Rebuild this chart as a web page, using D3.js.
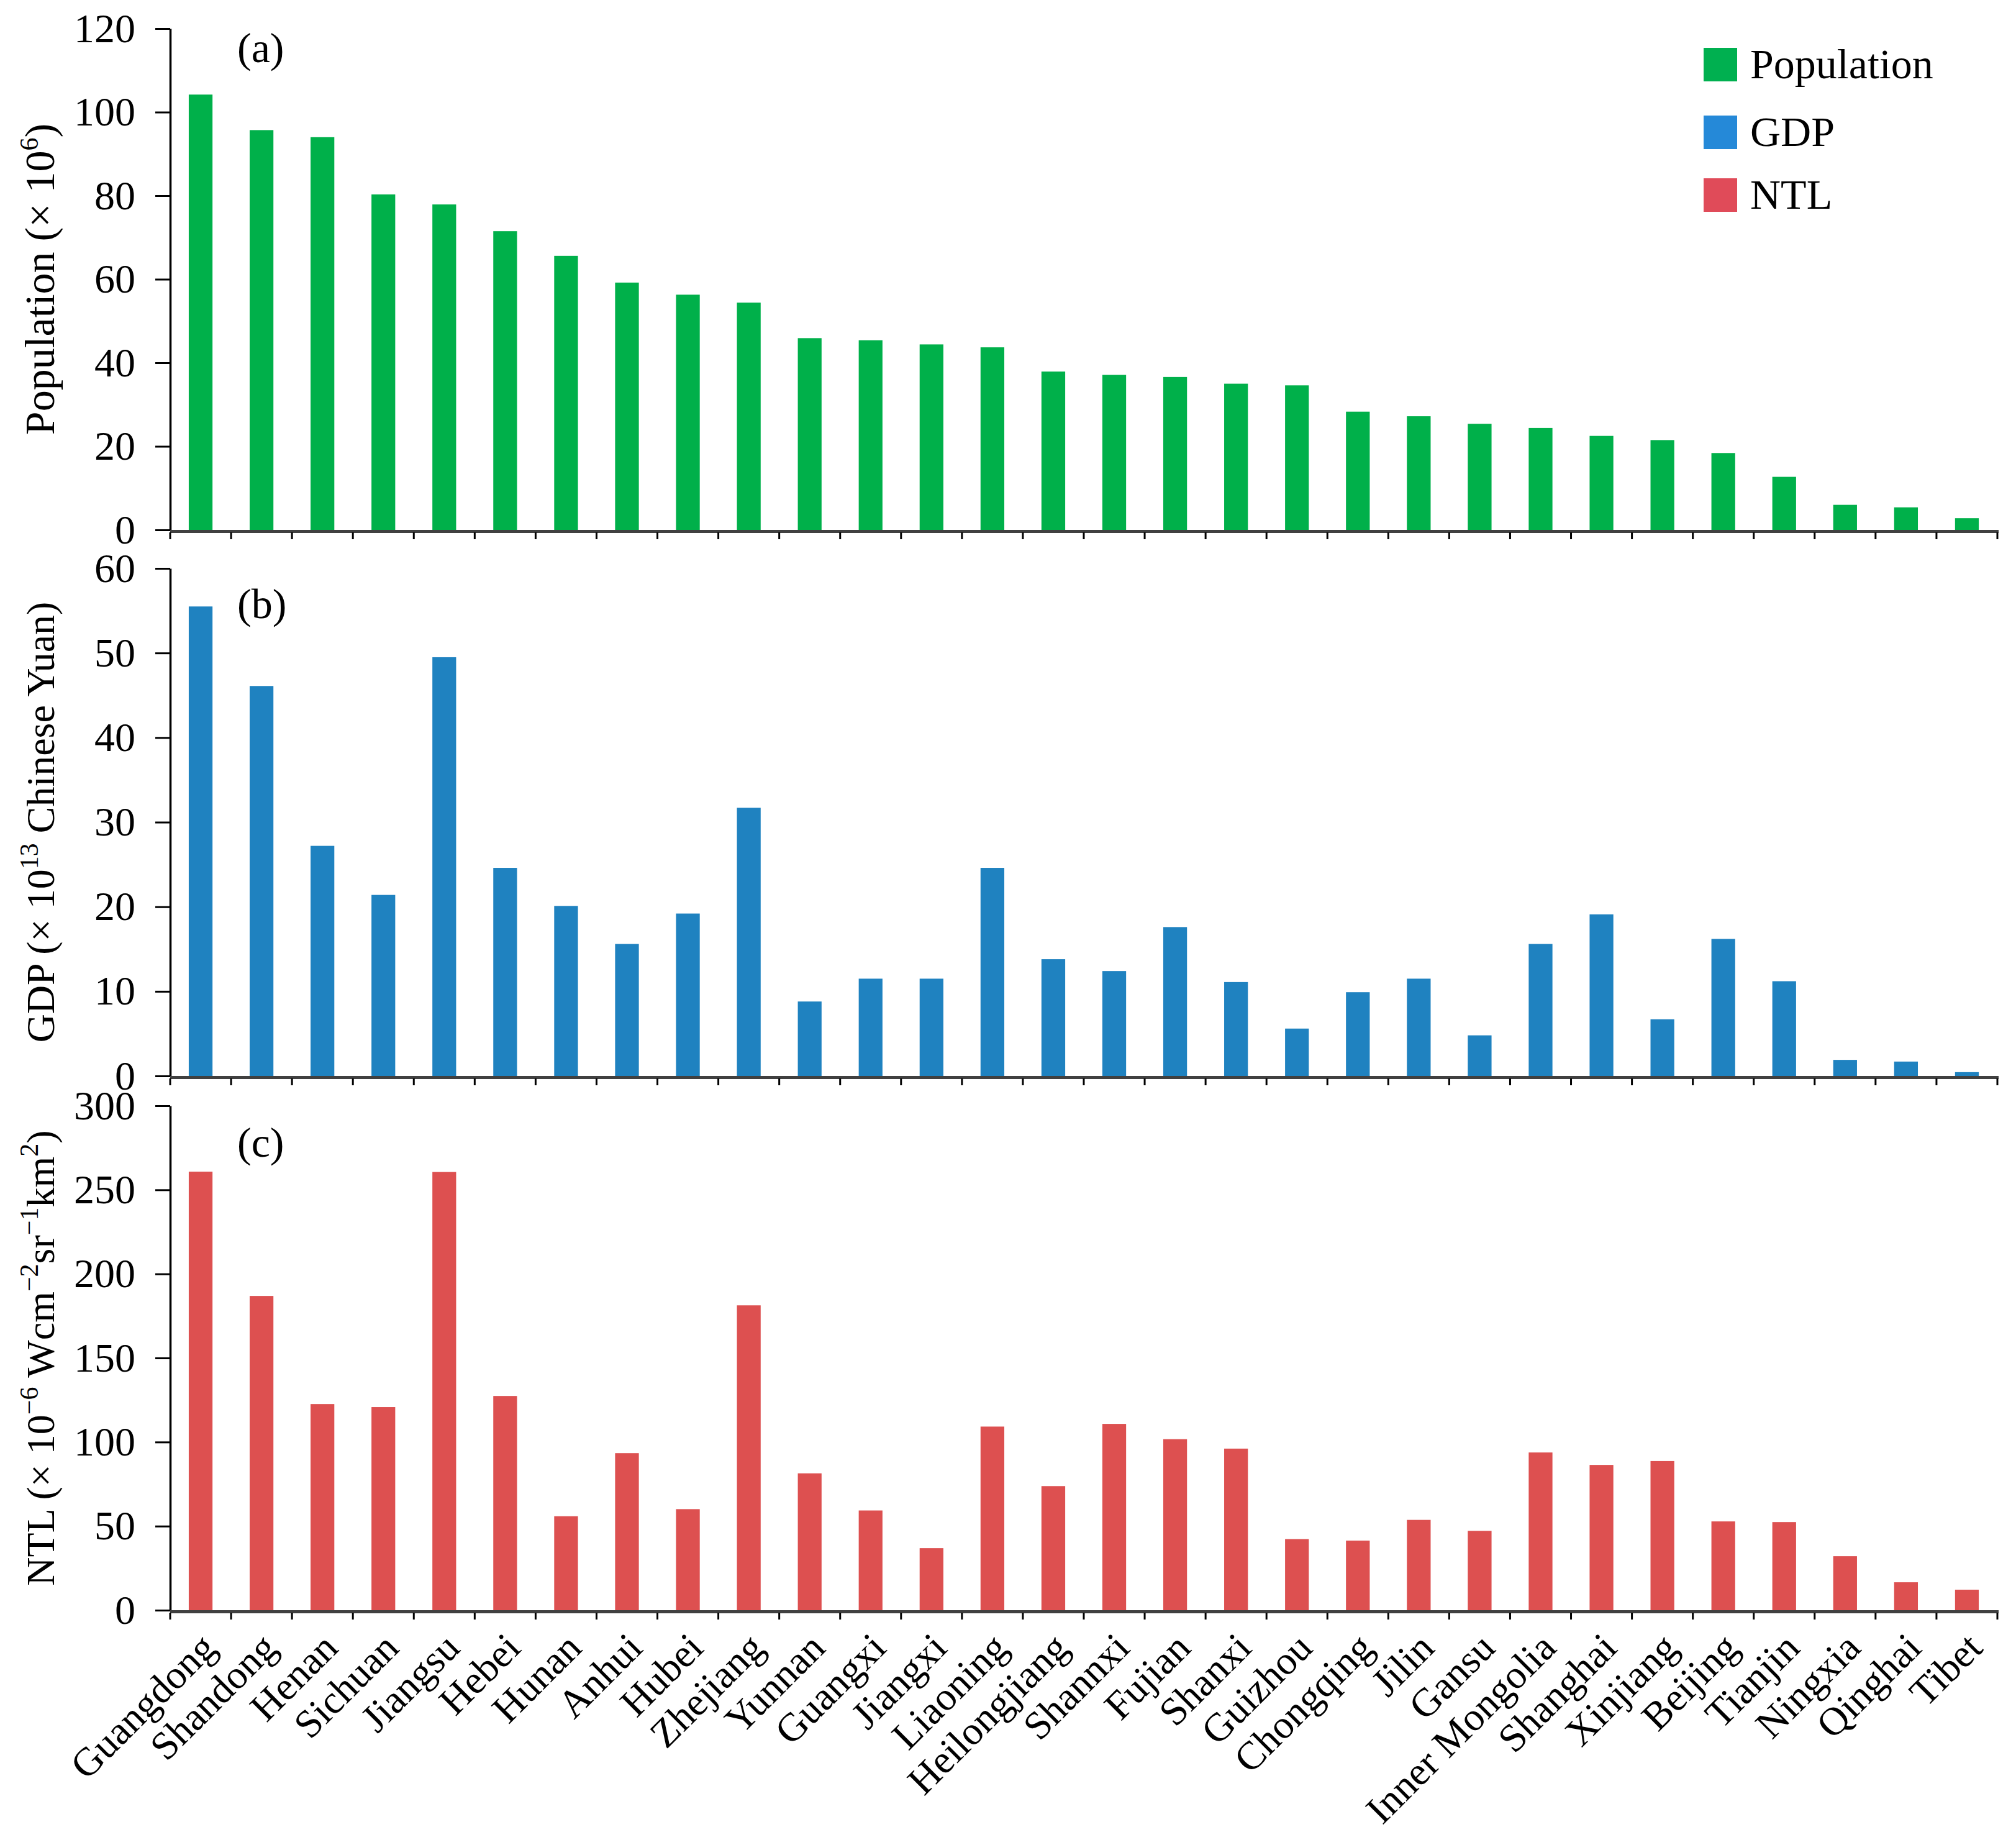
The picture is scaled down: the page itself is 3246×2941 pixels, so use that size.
<!DOCTYPE html>
<html>
<head>
<meta charset="utf-8">
<script src="https://cdn.jsdelivr.net/npm/d3@7"></script>
<style>
  body { margin: 0; background: #fff; }
  text { font-family: "Liberation Serif", "Times New Roman", serif; fill: #000; }
</style>
</head>
<body>
<div id="chart"></div>
<script>
// canvas size
var w = 3246;
var h = 2941;

// categories (provinces, sorted by population)
var provinces = ["Guangdong", "Shandong", "Henan", "Sichuan", "Jiangsu", "Hebei", "Hunan",
  "Anhui", "Hubei", "Zhejiang", "Yunnan", "Guangxi", "Jiangxi", "Liaoning", "Heilongjiang",
  "Shannxi", "Fujian", "Shanxi", "Guizhou", "Chongqing", "Jilin", "Gansu", "Inner Mongolia",
  "Shanghai", "Xinjiang", "Beijing", "Tianjin", "Ningxia", "Qinghai", "Tibet"];

// population (x 10^6)
var population = [104.2, 95.7, 94.0, 80.3, 77.9, 71.5, 65.6, 59.2, 56.3, 54.4, 45.9, 45.4,
  44.4, 43.7, 37.9, 37.1, 36.6, 35.0, 34.6, 28.3, 27.2, 25.4, 24.4, 22.5, 21.5, 18.4, 12.7,
  6.0, 5.4, 2.8];

// GDP (x 10^13 Chinese Yuan)
var gdp = [55.5, 46.1, 27.2, 21.4, 49.5, 24.6, 20.1, 15.6, 19.2, 31.7, 8.8, 11.5, 11.5, 24.6,
  13.8, 12.4, 17.6, 11.1, 5.6, 9.9, 11.5, 4.8, 15.6, 19.1, 6.7, 16.2, 11.2, 1.9, 1.7, 0.45];

// NTL (x 10^-6 W cm^-2 sr^-1 km^2)
var ntl = [260.8, 186.9, 122.6, 120.8, 260.6, 127.4, 55.9, 93.4, 60.1, 181.3, 81.4, 59.3,
  36.9, 109.2, 73.8, 110.8, 101.7, 96.1, 42.3, 41.4, 53.7, 47.2, 93.8, 86.4, 88.7, 52.8,
  52.4, 32.1, 16.6, 12.2];

// tick labels
var popTicks = [0, 20, 40, 60, 80, 100, 120];
var gdpTicks = [0, 10, 20, 30, 40, 50, 60];
var ntlTicks = [0, 50, 100, 150, 200, 250, 300];

// legend entries
var legendNames = ["Population", "GDP", "NTL"];
var legendColors = ["#00B050", "#2589D8", "#E04B59"];

// panel layout
var left = 274, right = 3216;
var panels = [
  { tag: "(a)", values: population, ticks: popTicks, top: 46, bottom: 853, color: "#00B04A",
    labelY: 100, titleSize: 68, title: [["Population (\u00D7 10", 0], ["6", 1], [")", 0]] },
  { tag: "(b)", values: gdp, ticks: gdpTicks, top: 915, bottom: 1732, color: "#1F82C0",
    labelY: 995, titleSize: 64, title: [["GDP (\u00D7 10", 0], ["13", 1], [" Chinese Yuan)", 0]] },
  { tag: "(c)", values: ntl, ticks: ntlTicks, top: 1780, bottom: 2592, color: "#DD5050",
    labelY: 1862, titleSize: 64, title: [["NTL (\u00D7 10", 0], ["\u22126", 1], [" Wcm", 0], ["\u22122", 1],
      ["sr", 0], ["\u22121", 1], ["km", 0], ["2", 1], [")", 0]] }
];

//Create SVG element
var svg = d3.select("#chart")
  .append("svg")
  .attr("width", w)
  .attr("height", h)
  .style("display", "block");

svg.append("rect").attr("width", w).attr("height", h).attr("fill", "#fff");

var x = d3.scaleBand()
  .domain(provinces)
  .range([left, right])
  .paddingInner(0)
  .paddingOuter(0);

var barW = x.bandwidth() * 0.39;

panels.forEach(function(p, pi) {

  var y = d3.scaleLinear()
    .domain([p.ticks[0], p.ticks[p.ticks.length - 1]])
    .range([p.bottom, p.top]);

  var g = svg.append("g");

  // bars
  g.selectAll(".bar")
    .data(p.values)
    .enter()
    .append("rect")
    .attr("class", "bar")
    .attr("x", function(d, i) { return x(provinces[i]) + (x.bandwidth() - barW) / 2; })
    .attr("y", function(d) { return y(d); })
    .attr("width", barW)
    .attr("height", function(d) { return y(0) - y(d); })
    .attr("fill", p.color);

  // y axis
  var yAxis = g.append("g")
    .attr("transform", "translate(" + left + ",0)")
    .call(d3.axisLeft(y).tickValues(p.ticks).tickSize(24).tickSizeOuter(0).tickPadding(32));
  yAxis.select(".domain").attr("stroke", "#000").attr("stroke-width", 3.5);
  yAxis.selectAll(".tick line").attr("stroke", "#000").attr("stroke-width", 3);
  yAxis.selectAll(".tick text")
    .attr("font-size", 66)
    .attr("font-family", "Liberation Serif, Times New Roman, serif")
    .attr("fill", "#000");

  // x axis line (thick dark gray)
  g.append("line")
    .attr("x1", left)
    .attr("x2", right + 2)
    .attr("y1", y(0) + 2.5)
    .attr("y2", y(0) + 2.5)
    .attr("stroke", "#404040")
    .attr("stroke-width", 5);

  // x ticks at category boundaries
  var bounds = provinces.map(function(d) { return x(d); }).concat([right]);
  g.selectAll(".xtick")
    .data(bounds)
    .enter()
    .append("line")
    .attr("class", "xtick")
    .attr("x1", function(d) { return d; })
    .attr("x2", function(d) { return d; })
    .attr("y1", y(0) + 4)
    .attr("y2", y(0) + 15)
    .attr("stroke", "#000")
    .attr("stroke-width", 3);

  // panel tag
  g.append("text")
    .attr("x", 382)
    .attr("y", p.labelY)
    .attr("font-size", 68)
    .text(p.tag);

  // y axis title, rotated
  var cy = (p.top + p.bottom) / 2;
  var title = g.append("text")
    .attr("transform", "translate(87," + cy + ") rotate(-90)")
    .attr("text-anchor", "middle")
    .attr("font-size", p.titleSize);
  var up = false;
  p.title.forEach(function(part) {
    var sup = part[1] === 1;
    var dy = 0;
    if (sup && !up) { dy = -26; up = true; }
    else if (!sup && up) { dy = 26; up = false; }
    title.append("tspan")
      .attr("dy", dy)
      .attr("font-size", sup ? 42 : p.titleSize)
      .text(part[0]);
  });

  // category labels under the last panel
  if (pi === panels.length - 1) {
    var xAxis = g.append("g")
      .attr("transform", "translate(0," + y(0) + ")")
      .call(d3.axisBottom(x).tickSize(0));
    xAxis.select(".domain").remove();
    xAxis.selectAll(".tick text")
      .attr("font-size", 64)
      .attr("font-family", "Liberation Serif, Times New Roman, serif")
      .attr("fill", "#000")
      .attr("text-anchor", "end")
      .attr("x", 0)
      .attr("y", 0)
      .attr("dy", 0)
      .attr("transform", "translate(28,64) rotate(-45)");
  }
});

// legend
var legend = svg.selectAll(".legend")
  .data(legendNames)
  .enter()
  .append("g")
  .attr("class", "legend")
  .attr("transform", function(d, i) { return "translate(2743," + [77, 186, 287][i] + ")"; });

legend.append("rect")
  .attr("width", 54)
  .attr("height", 54)
  .attr("fill", function(d, i) { return legendColors[i]; });

legend.append("text")
  .attr("x", 75)
  .attr("y", 49)
  .attr("font-size", 68)
  .text(function(d) { return d; });
</script>
</body>
</html>
